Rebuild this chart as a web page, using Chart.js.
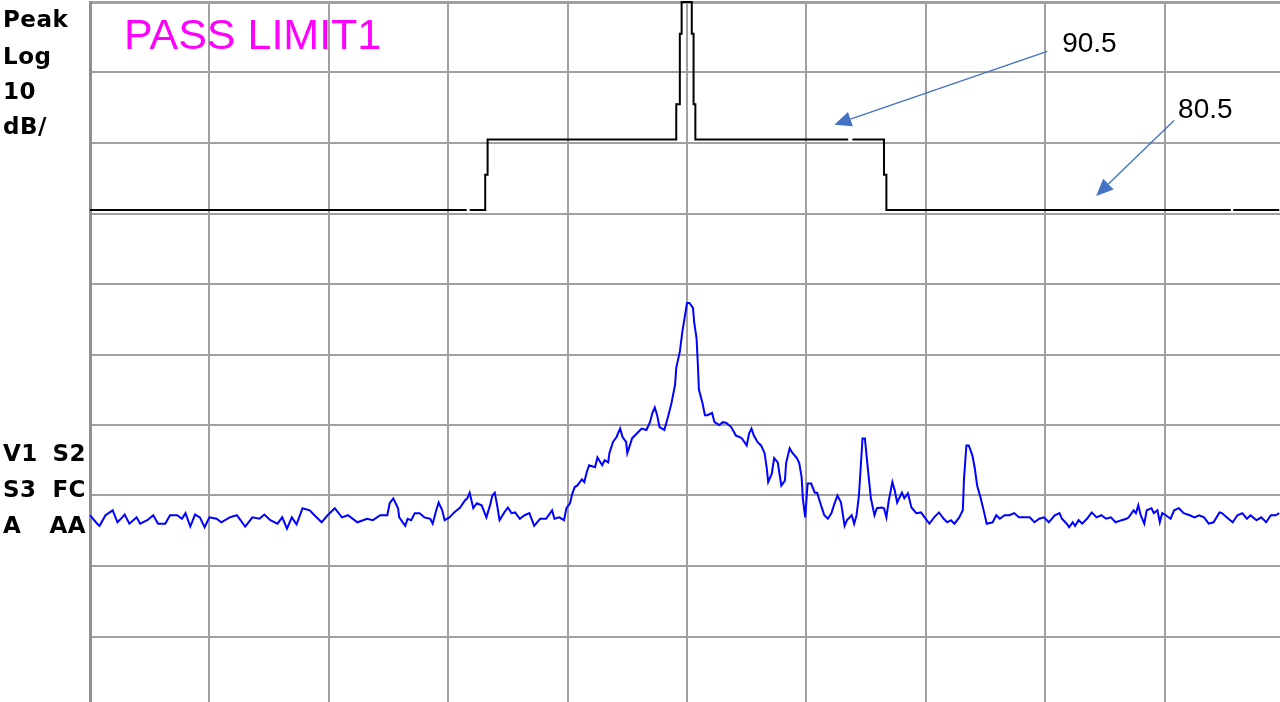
<!DOCTYPE html>
<html>
<head>
<meta charset="utf-8">
<script src="https://cdn.jsdelivr.net/npm/chart.js@4.4.1/dist/chart.umd.min.js"></script>
<style>
  html, body { margin: 0; padding: 0; width: 1280px; height: 702px; overflow: hidden; background: #fff; }
  #caja { position: absolute; left: 0; top: 0; width: 1284px; height: 707px; }
</style>
</head>
<body>
<div id="caja"><canvas id="espectro" width="1284" height="707"></canvas></div>
<script>
// eje x en divisiones (10 div), eje y en dB (ref 110, 10 dB/div)
var xTicks = [0, 1, 2, 3, 4, 5, 6, 7, 8, 9, 10];
var yTicks = [10, 20, 30, 40, 50, 60, 70, 80, 90, 100, 110];

// linea limite (null = corte en la linea)
var limitFreq  = [0, 3.155, 3.165, 3.18, 3.31, 3.31, 3.33, 3.33, 4.91, 4.91, 4.94, 4.94, 4.955, 4.955,
                  5.04, 5.04, 5.055, 5.055, 5.07, 5.07, 6.35, 6.37, 6.385, 6.65, 6.65, 6.67, 6.67,
                  9.555, 9.565, 9.575, 9.96];
var limitLevel = [80.5, 80.5, null, 80.5, 80.5, 85.5, 85.5, 90.5, 90.5, 95.5, 95.5, 105.5, 105.5, 110,
                  110, 105.5, 105.5, 95.5, 95.5, 90.5, 90.5, null, 90.5, 90.5, 85.5, 85.5, 80.5,
                  80.5, null, 80.5, 80.5];

// traza medida
var traceFreq = [
  0.00, 0.06, 0.08, 0.13, 0.19, 0.23, 0.27, 0.29, 0.33, 0.39, 0.42, 0.48, 0.53, 0.57, 0.63, 0.67, 0.73, 0.77, 0.80, 0.84,
  0.88, 0.92, 0.96, 1.00, 1.06, 1.10, 1.17, 1.23, 1.30, 1.36, 1.42, 1.46, 1.51, 1.57, 1.61, 1.65, 1.69, 1.73, 1.78, 1.84,
  1.88, 1.94, 1.99, 2.05, 2.11, 2.16, 2.24, 2.32, 2.37, 2.43, 2.49, 2.51, 2.54, 2.58, 2.59, 2.64, 2.66, 2.69, 2.72, 2.76,
  2.80, 2.85, 2.87, 2.90, 2.92, 2.95, 2.97, 3.01, 3.05, 3.10, 3.14, 3.16, 3.18, 3.21, 3.24, 3.28, 3.32, 3.35, 3.37, 3.39,
  3.41, 3.43, 3.47, 3.50, 3.53, 3.56, 3.60, 3.64, 3.68, 3.72, 3.77, 3.82, 3.87, 3.89, 3.93, 3.97, 3.99, 4.02, 4.04, 4.06,
  4.08, 4.12, 4.14, 4.16, 4.18, 4.23, 4.25, 4.29, 4.31, 4.34, 4.35, 4.38, 4.41, 4.44, 4.46, 4.49, 4.50, 4.54, 4.58, 4.62,
  4.66, 4.69, 4.71, 4.73, 4.75, 4.77, 4.81, 4.84, 4.87, 4.90, 4.91, 4.94, 4.96, 4.98, 5.00, 5.02, 5.05, 5.06, 5.08, 5.09,
  5.10, 5.13, 5.15, 5.17, 5.21, 5.23, 5.27, 5.30, 5.33, 5.37, 5.41, 5.44, 5.46, 5.50, 5.52, 5.54, 5.56, 5.59, 5.62, 5.65,
  5.67, 5.68, 5.71, 5.73, 5.76, 5.79, 5.82, 5.83, 5.86, 5.88, 5.92, 5.94, 5.96, 5.97, 5.99, 6.01, 6.04, 6.07, 6.09, 6.13,
  6.15, 6.18, 6.21, 6.23, 6.26, 6.29, 6.32, 6.34, 6.38, 6.40, 6.42, 6.44, 6.47, 6.49, 6.51, 6.54, 6.57, 6.59, 6.63, 6.65,
  6.67, 6.69, 6.72, 6.74, 6.76, 6.80, 6.82, 6.85, 6.88, 6.92, 6.96, 6.99, 7.03, 7.07, 7.11, 7.15, 7.18, 7.21, 7.24, 7.28,
  7.31, 7.32, 7.34, 7.36, 7.39, 7.41, 7.43, 7.46, 7.49, 7.51, 7.56, 7.59, 7.62, 7.66, 7.70, 7.74, 7.78, 7.82, 7.87, 7.91,
  7.95, 7.99, 8.03, 8.08, 8.12, 8.14, 8.18, 8.20, 8.23, 8.25, 8.28, 8.31, 8.35, 8.39, 8.43, 8.47, 8.51, 8.55, 8.59, 8.64,
  8.68, 8.70, 8.74, 8.76, 8.78, 8.80, 8.83, 8.85, 8.89, 8.91, 8.94, 8.96, 8.98, 9.01, 9.05, 9.08, 9.12, 9.16, 9.21, 9.25,
  9.29, 9.33, 9.37, 9.41, 9.46, 9.48, 9.52, 9.57, 9.61, 9.65, 9.69, 9.72, 9.77, 9.81, 9.85, 9.89, 9.93, 9.96
];
var traceLevel = [
  37.2, 36.0, 35.7, 37.2, 37.9, 36.2, 36.9, 37.3, 36.0, 36.9, 36.0, 36.5, 37.2, 36.0, 36.0, 37.2, 37.2, 36.7, 37.5, 35.6,
  37.3, 36.9, 35.5, 36.9, 36.7, 36.2, 36.9, 37.2, 35.6, 36.9, 36.7, 37.3, 36.5, 36.0, 36.9, 35.3, 36.9, 35.9, 38.2, 37.9,
  37.2, 36.2, 37.2, 38.2, 36.9, 37.2, 36.2, 36.7, 36.5, 37.2, 37.2, 38.9, 39.6, 38.2, 36.9, 35.7, 36.7, 36.5, 37.5, 37.5,
  36.9, 36.7, 36.0, 37.9, 39.0, 37.9, 36.5, 36.9, 37.6, 38.3, 39.3, 39.6, 40.4, 38.2, 38.9, 38.6, 36.9, 38.6, 40.0, 40.4,
  38.6, 36.5, 37.6, 38.3, 37.5, 37.6, 36.7, 37.2, 37.5, 35.7, 36.7, 36.7, 37.9, 36.7, 36.9, 36.5, 38.2, 38.9, 40.3, 41.2,
  41.4, 42.3, 41.9, 43.3, 44.3, 44.0, 45.4, 44.3, 45.0, 44.7, 46.0, 47.6, 48.3, 49.5, 48.3, 47.6, 46.0, 48.1, 48.8, 49.5,
  49.3, 50.4, 51.7, 52.5, 51.4, 49.7, 49.3, 51.1, 53.1, 55.7, 58.1, 60.4, 63.1, 65.2, 67.3, 67.3, 66.6, 64.6, 62.3, 58.9,
  55.0, 53.1, 51.4, 51.4, 51.7, 50.4, 50.0, 50.4, 50.3, 49.7, 48.5, 48.3, 48.1, 47.1, 48.8, 49.5, 48.5, 47.6, 47.1, 46.0,
  43.6, 41.9, 43.1, 45.3, 44.7, 41.4, 42.1, 44.6, 46.7, 46.1, 45.3, 44.6, 42.6, 39.6, 36.9, 41.7, 41.7, 40.4, 40.4, 38.2,
  37.2, 36.7, 37.5, 38.6, 40.0, 39.0, 35.7, 36.5, 37.2, 36.0, 37.2, 40.0, 48.1, 48.1, 44.6, 39.6, 37.2, 38.2, 38.3, 38.2,
  36.9, 39.3, 41.9, 40.7, 39.0, 40.4, 39.6, 40.3, 38.3, 37.5, 37.6, 36.9, 36.0, 36.9, 37.6, 36.7, 36.2, 36.5, 36.0, 36.9,
  37.9, 42.4, 47.1, 47.1, 45.7, 43.9, 41.4, 39.6, 37.5, 36.0, 36.2, 37.2, 36.7, 37.2, 37.2, 37.5, 36.9, 36.9, 36.9, 36.2,
  36.7, 36.9, 36.2, 37.2, 37.5, 36.7, 36.0, 35.5, 36.2, 35.7, 36.5, 36.0, 36.7, 37.6, 36.9, 37.2, 36.7, 36.9, 36.2, 36.5,
  36.7, 36.9, 37.9, 37.5, 38.6, 37.2, 36.0, 37.9, 38.2, 37.5, 37.9, 36.2, 37.5, 37.2, 36.7, 37.9, 38.2, 37.5, 37.2, 36.9,
  37.2, 36.9, 36.0, 36.2, 37.6, 37.5, 36.9, 36.2, 37.2, 37.5, 36.7, 37.2, 36.5, 36.9, 36.2, 37.2, 37.2, 37.5
];

// textos del analizador
var textosIzq = ['Peak', 'Log', '10', 'dB/'];
var textosAbajo = [['V1', 'S2'], ['S3', 'FC'], ['A', 'AA']];
var titulo = 'PASS LIMIT1';
var notas = ['90.5', '80.5'];

function puntos(xs, ys) {
  var out = [];
  for (var i = 0; i < xs.length; i++) out.push({ x: xs[i], y: ys[i] });
  return out;
}

function flecha(ctx, x1, y1, x2, y2) {
  var ang = Math.atan2(y2 - y1, x2 - x1);
  var largo = 17, ancho = 7.5;
  var bx = x2 - largo * Math.cos(ang), by = y2 - largo * Math.sin(ang);
  ctx.beginPath();
  ctx.moveTo(x1, y1);
  ctx.lineTo(bx, by);
  ctx.stroke();
  ctx.beginPath();
  ctx.moveTo(x2, y2);
  ctx.lineTo(bx + ancho * Math.sin(ang), by - ancho * Math.cos(ang));
  ctx.lineTo(bx - ancho * Math.sin(ang), by + ancho * Math.cos(ang));
  ctx.closePath();
  ctx.fill();
}

var textosPlugin = {
  id: 'textos',
  afterDraw: function(chart) {
    var ctx = chart.ctx;
    var area = chart.chartArea;
    var sx = chart.scales.x, sy = chart.scales.y;
    ctx.save();

    // etiquetas a la izquierda
    ctx.fillStyle = '#000';
    ctx.font = 'bold 23px "DejaVu Sans"';
    ctx.letterSpacing = '0.5px';
    ctx.textBaseline = 'alphabetic';
    var bases = [27, 64, 99, 134];
    ctx.textAlign = 'left';
    for (var i = 0; i < textosIzq.length; i++) ctx.fillText(textosIzq[i], 3, bases[i]);
    var bases2 = [461, 497, 533];
    for (var j = 0; j < textosAbajo.length; j++) {
      ctx.textAlign = 'left';
      ctx.fillText(textosAbajo[j][0], 3, bases2[j]);
      ctx.textAlign = 'right';
      ctx.fillText(textosAbajo[j][1], 86, bases2[j]);
    }
    ctx.letterSpacing = '0px';

    // titulo magenta
    ctx.fillStyle = '#ff00ff';
    ctx.font = '43px "Liberation Sans", Arial, sans-serif';
    ctx.textAlign = 'left';
    ctx.fillText(titulo, area.left + 34, area.top + 47);

    // notas con flechas
    ctx.strokeStyle = '#4472c4';
    ctx.fillStyle = '#4472c4';
    ctx.lineWidth = 1.4;
    flecha(ctx, sx.getPixelForValue(8.017), sy.getPixelForValue(103.0),
                sx.getPixelForValue(6.234), sy.getPixelForValue(92.6));
    flecha(ctx, sx.getPixelForValue(9.079), sy.getPixelForValue(93.2),
                sx.getPixelForValue(8.427), sy.getPixelForValue(82.5));

    ctx.fillStyle = '#000';
    ctx.font = '28px "Liberation Sans", Arial, sans-serif';
    ctx.fillText(notas[0], sx.getPixelForValue(8.142), sy.getPixelForValue(102.9));
    ctx.fillText(notas[1], sx.getPixelForValue(9.113), sy.getPixelForValue(93.5));
    ctx.restore();
  }
};

var contenedor = document.getElementById('espectro').getContext('2d');

var grafica = new Chart(contenedor, {
  type: 'line',
  data: {
    datasets: [{
      label: 'Limit',
      data: puntos(limitFreq, limitLevel),
      borderColor: '#000000',
      borderWidth: 2,
      pointRadius: 0,
      tension: 0,
      spanGaps: false,
      clip: 6
    }, {
      label: 'Trace',
      data: puntos(traceFreq, traceLevel),
      borderColor: '#0000ff',
      borderWidth: 2,
      pointRadius: 0,
      tension: 0
    }]
  },
  options: {
    responsive: false,
    animation: false,
    events: [],
    layout: { padding: { left: 90, top: 2, right: 0, bottom: 0 } },
    plugins: { legend: { display: false }, tooltip: { enabled: false } },
    scales: {
      x: {
        type: 'linear', min: 0, max: 10,
        afterBuildTicks: function(axis) { axis.ticks = xTicks.map(function(v) { return { value: v }; }); },
        ticks: { display: false },
        grid: {
          color: '#a0a0a0',
          lineWidth: function(c) { return c.tick && c.tick.value === 0 ? 3 : 2; },
          drawTicks: false
        },
        border: { display: false }
      },
      y: {
        type: 'linear', min: 10, max: 110,
        afterBuildTicks: function(axis) { axis.ticks = yTicks.map(function(v) { return { value: v }; }); },
        ticks: { display: false },
        grid: {
          color: '#a0a0a0',
          lineWidth: function(c) { return c.tick && c.tick.value === 110 ? 3 : 2; },
          drawTicks: false
        },
        border: { display: true, color: '#909090', width: 3 }
      }
    }
  },
  plugins: [textosPlugin]
});
</script>
</body>
</html>
